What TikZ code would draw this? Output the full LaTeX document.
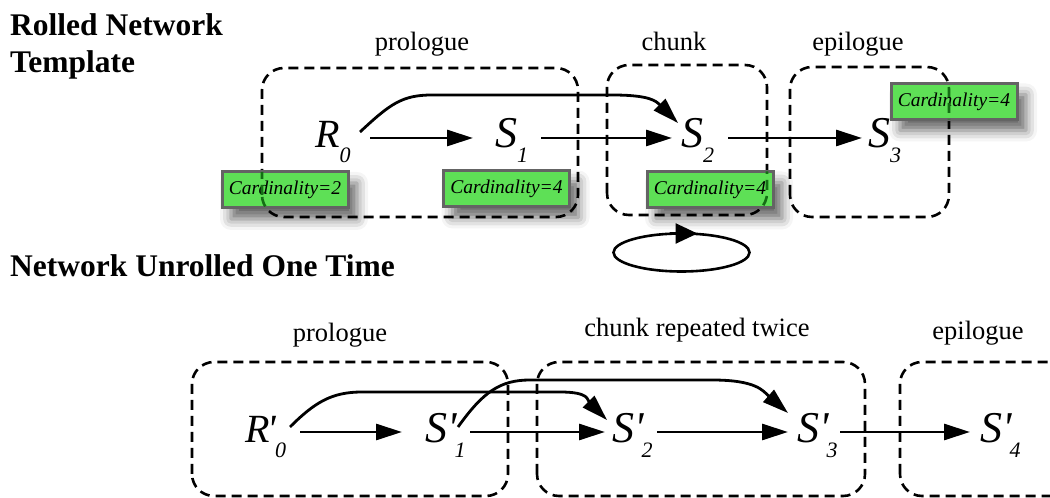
\documentclass[tikz,border=0pt]{standalone}
\usepackage{fontspec}
\setmainfont{Liberation Serif}
\usetikzlibrary{arrows.meta,shadows.blur}

\definecolor{cardgreen}{RGB}{94,224,86}
\definecolor{cardedge}{RGB}{100,100,100}
\definecolor{seengreen}{RGB}{20,110,20}

% italic subscript set low beside a variable
\newcommand{\Sub}[1]{\raisebox{-15pt}{\fontsize{22pt}{22pt}\selectfont\itshape #1}}
% primed variable: #1 and #2 are the kerns around the prime, #3 is the subscript
\newcommand{\PSub}[3]{\kern#1\textquotesingle\kern#2\Sub{#3}}

% dashed regions of the rolled template
\newcommand{\rolledframes}[1]{%
  \draw[frame,#1] (262,281) rectangle (578,430);
  \draw[frame,#1] (607,283) rectangle (767,433);
  \draw[frame,#1] (790,281) rectangle (949,431);}

\begin{document}
\begin{tikzpicture}[x=1pt,y=1pt,
  frame/.style={dash pattern=on 10pt off 6pt, line width=2.6pt, rounded corners=22pt},
  arr/.style={line width=2.8pt, -{Triangle[length=26pt,width=16pt]}},
  var/.style={anchor=base west, inner sep=0, font=\fontsize{44pt}{44pt}\selectfont\itshape},
  varR/.style={var, font=\fontsize{40pt}{40pt}\selectfont\itshape},
  card/.style={draw=cardedge, line width=3pt, fill=cardgreen,
    minimum width=126pt, minimum height=36pt, inner sep=0,
    font=\fontsize{19.5pt}{19.5pt}\selectfont\itshape,
    blur shadow={shadow xshift=9pt, shadow yshift=-11pt, shadow blur radius=11pt, shadow opacity=60}},
  title/.style={anchor=base west, inner sep=0, font=\fontsize{31.5pt}{31.5pt}\selectfont\bfseries},
  part/.style={anchor=base, inner sep=0, font=\fontsize{26.5pt}{26.5pt}\selectfont}]

\useasboundingbox (0,0) rectangle (1050,498);
\clip (0,0) rectangle (1050,498);

% ---------- headings ----------
\node[title] (t1) at (10,462) {Rolled Network};
\node[title] (t2) at (10,425) {Template};
\node[title] (t3) at (10,221) {Network Unrolled One Time};

% ---------- rolled template ----------
\node[part] (pro) at (422,447) {prologue};
\node[part] (chu) at (674,447) {chunk};
\node[part] (epi) at (858,447) {epilogue};

\rolledframes{draw=black}

\node[varR] (R0) at (315,350) {R\Sub{0}};
\node[var]  (S1) at (495,350) {S\Sub{1}};
\node[var]  (S2) at (681,350) {S\Sub{2}};
\node[var]  (S3) at (868,350) {S\Sub{3}};

\draw[arr] ([shift={(55,10)}]R0.base west) -- ([shift={(-22,10)}]S1.base west);
\draw[arr] ([shift={(46,10)}]S1.base west) -- ([shift={(-9,10)}]S2.base west);
\draw[arr] ([shift={(47,10)}]S2.base west) -- ([shift={(-6,10)}]S3.base west);
\draw[arr] ([shift={(45,16)}]R0.base west) .. controls +(30,28) and +(-30,0) .. (432,403)
  -- (612,403) .. controls +(38,0) and +(-22,22) .. ([shift={(-3,25)}]S2.base west);

% repetition loop under the chunk
\coordinate (loop) at (681.5,245.5);
\draw[line width=2.6pt] (loop) ellipse [x radius=68, y radius=19];
\draw[line width=2.6pt, -{Triangle[length=22pt,width=20pt]}]
  ([shift={(-12,19)}]loop) -- ([shift={(16,19)}]loop);

\node[card] (c1) at (285,308) {Cardinality=2};
\node[card] (c2) at (506.5,309.5) {Cardinality=4};
\node[card] (c3) at (710,308.5) {Cardinality=4};
\node[card] (c4) at (954,396.5) {Cardinality=4};

% region borders seen through the cardinality tags
\begin{scope}
  \clip ([shift={(1.5,1.5)}]c1.south west) rectangle ([shift={(-1.5,-1.5)}]c1.north east)
        ([shift={(1.5,1.5)}]c3.south west) rectangle ([shift={(-1.5,-1.5)}]c3.north east)
        ([shift={(1.5,1.5)}]c4.south west) rectangle ([shift={(-1.5,-1.5)}]c4.north east);
  \rolledframes{draw=seengreen}
\end{scope}

% ---------- unrolled network ----------
\node[part] (pro2) at (340,156) {prologue};
\node[part] (chu2) at (697,161) {chunk repeated twice};
\node[part] (epi2) at (978,158) {epilogue};

\draw[frame] (192,2) rectangle (508,136);
\draw[frame] (537,2) rectangle (865,136);
\draw[frame] (900,2) rectangle (1075,136);

\node[varR] (R0p) at (245,55) {R\PSub{-2pt}{-1pt}{0}};
\node[var]  (S1p) at (425,55) {S\PSub{0pt}{-2pt}{1}};
\node[var]  (S2p) at (612,55) {S\PSub{0pt}{-2pt}{2}};
\node[var]  (S3p) at (797,55) {S\PSub{0pt}{-2pt}{3}};
\node[var]  (S4p) at (980,55) {S\PSub{0pt}{-2pt}{4}};

\draw[arr] ([shift={(55,11)}]R0p.base west) -- ([shift={(-23,11)}]S1p.base west);
\draw[arr] ([shift={(45,11)}]S1p.base west) -- ([shift={(-7,11)}]S2p.base west);
\draw[arr] ([shift={(45,11)}]S2p.base west) -- ([shift={(-9,11)}]S3p.base west);
\draw[arr] ([shift={(43,11)}]S3p.base west) -- ([shift={(-10,11)}]S4p.base west);
\draw[arr] ([shift={(45,16)}]R0p.base west) .. controls +(25,25) and +(-30,0) .. (362,106)
  -- (560,106) .. controls +(30,0) and +(-20,20) .. ([shift={(-5,23)}]S2p.base west);
\draw[arr] ([shift={(33,16)}]S1p.base west) .. controls +(25,35) and +(-30,0) .. (530,118)
  -- (712,118) .. controls +(45,0) and +(-25,22) .. ([shift={(-9,30)}]S3p.base west);
\end{tikzpicture}
\end{document}
